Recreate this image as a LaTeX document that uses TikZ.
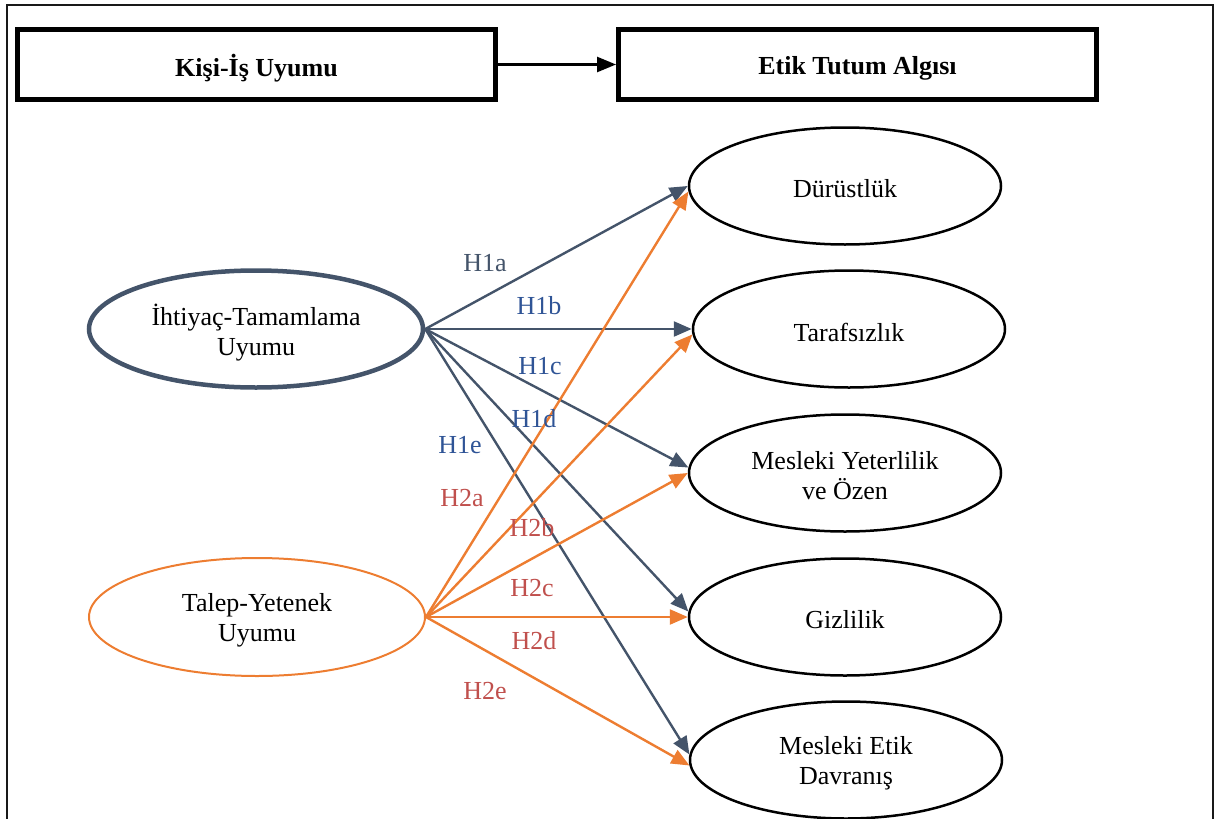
\documentclass[tikz,border=0pt]{standalone}
\usepackage{fontspec}
\setmainfont{Liberation Serif}
\usetikzlibrary{shapes.geometric,arrows.meta}
\definecolor{slate}{HTML}{44546A}
\definecolor{orng}{HTML}{ED7D31}
\definecolor{hblue}{HTML}{2F5496}
\definecolor{hred}{HTML}{C0504D}
\begin{document}
\begin{tikzpicture}[x=1pt,y=-1pt,
  txt/.style={font=\fontsize{26}{30}\selectfont, align=center, inner sep=0pt},
  topbox/.style={draw, line width=5pt, minimum width=478pt, minimum height=70pt, inner sep=0pt},
  ell/.style={ellipse, draw, line width=2.5pt, minimum width=312pt, minimum height=117pt, inner sep=0pt},
  lbl/.style={inner sep=0pt, font=\fontsize{26}{30}\selectfont},
  tip/.style={-{Triangle[length=18pt,width=15pt]}},
  bluearr/.style={tip, draw=slate, fill=slate, line width=2.4pt},
  orarr/.style={tip, draw=orng, fill=orng, line width=2.4pt}]
\useasboundingbox (0,0) rectangle (1218,819);
\draw[line width=2pt, black!90] (7,5) rectangle (1213,840);

\node[topbox, label={[txt,font=\fontsize{26}{30}\selectfont\bfseries,yshift=-4pt]center:Kişi-İş Uyumu}] (kb) at (256.5,64.5) {};
\node[topbox, label={[txt,font=\fontsize{26}{30}\selectfont\bfseries,yshift=-4pt]center:Etik Tutum Algısı}] (eb) at (857.5,64.5) {};
\draw[line width=2.5pt, -{Triangle[length=19pt,width=15pt]}] (kb.east) -- (eb.west);

\node[ell, draw=slate, line width=4.5pt, minimum width=334pt, minimum height=117pt,
  label={[txt,yshift=-4pt]center:İhtiyaç-Tamamlama\\Uyumu}] (I) at (256,329) {};
\node[ell, draw=orng, line width=2pt, minimum width=336pt, minimum height=118pt,
  label={[txt,yshift=-3pt]center:Talep-Yetenek\\Uyumu}] (Ta) at (257,617) {};

\node[ell, label={[txt,yshift=-3pt]center:Dürüstlük}] (D) at (845,186) {};
\node[ell, label={[txt,yshift=-3pt]center:Tarafsızlık}] (T) at (849,329) {};
\node[ell, label={[txt,yshift=-3pt]center:Mesleki Yeterlilik\\ve Özen}] (MY) at (845,473) {};
\node[ell, label={[txt,yshift=-3pt]center:Gizlilik}] (G) at (845,617) {};
\node[ell, label={[txt,yshift=-3pt]center:Mesleki Etik\\Davranış}] (E) at (846,760) {};

\draw[bluearr] (I.east) -- (D.west);
\draw[bluearr] (I.east) -- (T.west);
\draw[bluearr] (I.east) -- (MY.178);
\draw[bluearr] (I.east) -- (G.178);
\draw[bluearr] (I.east) -- (E.178);

\draw[orarr] (Ta.east) -- (D.182);
\draw[orarr] (Ta.east) -- (T.182);
\draw[orarr] (Ta.east) -- (MY.west);
\draw[orarr] (Ta.east) -- (G.west);
\draw[orarr] (Ta.east) -- (E.182);

\node[lbl, text=slate] (h1a) at (485,263) {H1a};
\node[lbl, text=hblue] (h1b) at (539,306) {H1b};
\node[lbl, text=hblue] (h1c) at (540,366) {H1c};
\node[lbl, text=hblue] (h1d) at (534,419) {H1d};
\node[lbl, text=hblue] (h1e) at (460,445) {H1e};
\node[lbl, text=hred] (h2a) at (462,498) {H2a};
\node[lbl, text=hred] (h2b) at (532,528) {H2b};
\node[lbl, text=hred] (h2c) at (532,588) {H2c};
\node[lbl, text=hred] (h2d) at (534,641) {H2d};
\node[lbl, text=hred] (h2e) at (485,691) {H2e};
\end{tikzpicture}
\end{document}
